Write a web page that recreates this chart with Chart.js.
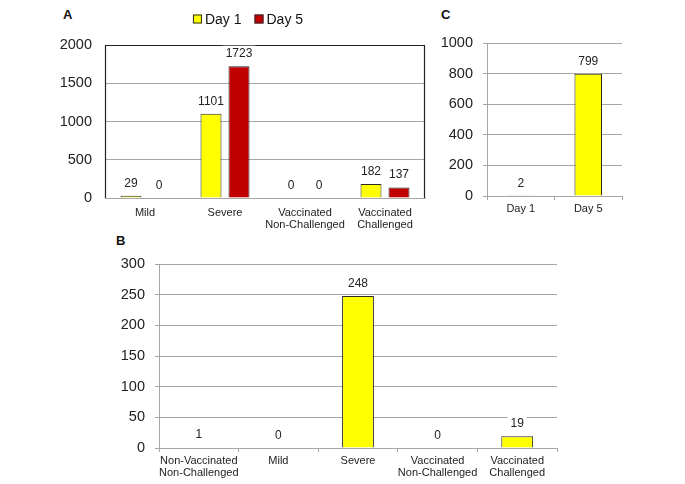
<!DOCTYPE html>
<html>
<head>
<meta charset="utf-8">
<script src="https://cdn.jsdelivr.net/npm/chart.js@4/dist/chart.umd.min.js"></script>
<style>
  html, body { margin: 0; padding: 0; background: #fff; overflow: hidden; }
  body { width: 685px; height: 484px; position: relative; font-family: "Liberation Sans", Arial, sans-serif; }
  canvas { position: absolute; }
  .tag { position: absolute; font-weight: bold; font-size: 13px; color: #111; }
</style>
</head>
<body>
<div class="tag" style="left:63px; top:7px;">A</div>
<div class="tag" style="left:116px; top:233px;">B</div>
<div class="tag" style="left:441px; top:7px;">C</div>
<canvas id="chart-a" width="440" height="235" style="left:0; top:0;"></canvas>
<canvas id="chart-b" width="635" height="244" style="left:50px; top:240px;"></canvas>
<canvas id="chart-c" width="255" height="235" style="left:430px; top:0;"></canvas>
<script>
// panel A - two days per group
const groupsA = ["Mild", "Severe", ["Vaccinated", "Non-Challenged"], ["Vaccinated", "Challenged"]];
const day1A = [29, 1101, 0, 182];
const day5A = [0, 1723, 0, 137];
const seriesNamesA = ["Day 1", "Day 5"];
const yMaxA = 2000, yStepA = 500;

// panel B
const groupsB = [["Non-Vaccinated", "Non-Challenged"], "Mild", "Severe", ["Vaccinated", "Non-Challenged"], ["Vaccinated", "Challenged"]];
const valuesB = [1, 0, 248, 0, 19];
const yMaxB = 300, yStepB = 50;

// panel C
const daysC = ["Day 1", "Day 5"];
const valuesC = [2, 799];
const yMaxC = 1000, yStepC = 200;

const FONT = '"Liberation Sans", Arial, sans-serif';
const GRID = "#a6a6a6";
const YELLOW = "#ffff00";
const RED = "#c00000";
const EDGE = "#2a2a2a";

Chart.defaults.color = "#222";
Chart.defaults.font.family = FONT;

// plain numbers on the y axis (no thousands comma)
const plain = (v) => String(v);

// numbers above bars, with a white box behind them like the original
const valueLabels = {
	id: "valueLabels",
	afterDatasetsDraw(chart) {
		const ctx = chart.ctx;
		ctx.save();
		ctx.font = "12px " + FONT;
		ctx.textAlign = "center";
		ctx.textBaseline = "middle";
		chart.data.datasets.forEach((ds, i) => {
			chart.getDatasetMeta(i).data.forEach((bar, j) => {
				const text = String(ds.data[j]);
				const w = ctx.measureText(text).width + 6;
				const y = bar.y - 12.5;
				ctx.fillStyle = "#fff";
				ctx.fillRect(bar.x - w / 2, y - 8, w, 16);
				ctx.fillStyle = "#222";
				ctx.fillText(text, bar.x, y);
			});
		});
		ctx.restore();
	},
};

// dark frame on left, top and right of panel A
const frameA = {
	id: "frameA",
	beforeDatasetsDraw(chart) {
		const { left, top, right, bottom } = chart.chartArea;
		const ctx = chart.ctx;
		ctx.save();
		ctx.strokeStyle = "#222";
		ctx.lineWidth = 1.2;
		ctx.beginPath();
		ctx.moveTo(Math.round(left) + 0.5, bottom);
		ctx.lineTo(Math.round(left) + 0.5, Math.round(top) + 0.5);
		ctx.lineTo(Math.round(right) - 0.5, Math.round(top) + 0.5);
		ctx.lineTo(Math.round(right) - 0.5, bottom);
		ctx.stroke();
		ctx.restore();
	},
};

// legend for panel A, drawn from the datasets
const legendA = {
	id: "legendA",
	afterDraw(chart) {
		const ctx = chart.ctx;
		ctx.save();
		ctx.font = "14px " + FONT;
		ctx.textBaseline = "middle";
		const box = 9, gap = 3, spacing = 13;
		const items = chart.data.datasets.map((ds) => ({ ds, w: box + gap + ctx.measureText(ds.label).width }));
		const total = items.reduce((s, it) => s + it.w, 0) + spacing * (items.length - 1);
		let x = 248 - total / 2;
		const y = 19;
		items.forEach((it) => {
			ctx.fillStyle = it.ds.backgroundColor;
			ctx.fillRect(x, y - box / 2, box, box);
			ctx.strokeStyle = EDGE;
			ctx.lineWidth = 1;
			ctx.strokeRect(x + 0.5, y - box / 2 + 0.5, box - 1, box - 1);
			ctx.fillStyle = "#111";
			ctx.fillText(it.ds.label, x + box + gap, y + 1);
			x += it.w + spacing;
		});
		ctx.restore();
	},
};

new Chart(document.getElementById("chart-a"), {
	type: "bar",
	data: {
		labels: groupsA,
		datasets: [
			{ label: seriesNamesA[0], data: day1A, backgroundColor: YELLOW, borderColor: EDGE, borderWidth: 1 },
			{ label: seriesNamesA[1], data: day5A, backgroundColor: RED, borderColor: EDGE, borderWidth: 1 },
		],
	},
	options: {
		responsive: false,
		animation: false,
		categoryPercentage: 0.7,
		barPercentage: 0.75,
		layout: { padding: { top: 45, right: 15, left: 0, bottom: 0 } },
		plugins: { legend: { display: false }, tooltip: { enabled: false } },
		scales: {
			x: {
				grid: { display: false },
				border: { color: GRID },
				ticks: { font: { size: 11, lineHeight: 1.1 }, padding: 1, maxRotation: 0, autoSkip: false },
				afterFit: (s) => { s.height = 37; },
			},
			y: {
				min: 0,
				max: yMaxA,
				ticks: { stepSize: yStepA, font: { size: 14.5 }, padding: 13, callback: plain },
				grid: { color: GRID, drawTicks: false },
				border: { display: false },
				afterFit: (s) => { s.width = 105; },
			},
		},
	},
	plugins: [frameA, valueLabels, legendA],
});

new Chart(document.getElementById("chart-b"), {
	type: "bar",
	data: {
		labels: groupsB,
		datasets: [{ label: "B", data: valuesB, backgroundColor: YELLOW, borderColor: EDGE, borderWidth: 1 }],
	},
	options: {
		responsive: false,
		animation: false,
		categoryPercentage: 0.8,
		barPercentage: 0.5,
		layout: { padding: { top: 24, right: 128, left: 0, bottom: 0 } },
		plugins: { legend: { display: false }, tooltip: { enabled: false } },
		scales: {
			x: {
				grid: { drawOnChartArea: false, color: GRID, tickLength: 4 },
				border: { color: GRID },
				ticks: { font: { size: 11, lineHeight: 1.1 }, padding: 3, maxRotation: 0, autoSkip: false },
				afterFit: (s) => { s.height = 36; },
			},
			y: {
				min: 0,
				max: yMaxB,
				ticks: { stepSize: yStepB, font: { size: 14.5 }, padding: 10, callback: plain },
				grid: { color: GRID, tickLength: 4 },
				border: { color: GRID },
				afterFit: (s) => { s.width = 109; },
			},
		},
	},
	plugins: [valueLabels],
});

new Chart(document.getElementById("chart-c"), {
	type: "bar",
	data: {
		labels: daysC,
		datasets: [{ label: "C", data: valuesC, backgroundColor: YELLOW, borderColor: EDGE, borderWidth: 1 }],
	},
	options: {
		responsive: false,
		animation: false,
		categoryPercentage: 0.8,
		barPercentage: 0.51,
		layout: { padding: { top: 43, right: 63, left: 0, bottom: 0 } },
		plugins: { legend: { display: false }, tooltip: { enabled: false } },
		scales: {
			x: {
				grid: { drawOnChartArea: false, color: GRID, tickLength: 4 },
				border: { color: GRID },
				ticks: { font: { size: 11, lineHeight: 1.1 }, padding: 3, maxRotation: 0, autoSkip: false },
				afterFit: (s) => { s.height = 39; },
			},
			y: {
				min: 0,
				max: yMaxC,
				ticks: { stepSize: yStepC, font: { size: 14.5 }, padding: 10, callback: plain },
				grid: { color: GRID, tickLength: 4 },
				border: { color: GRID },
				afterFit: (s) => { s.width = 57; },
			},
		},
	},
	plugins: [valueLabels],
});
</script>
</body>
</html>
